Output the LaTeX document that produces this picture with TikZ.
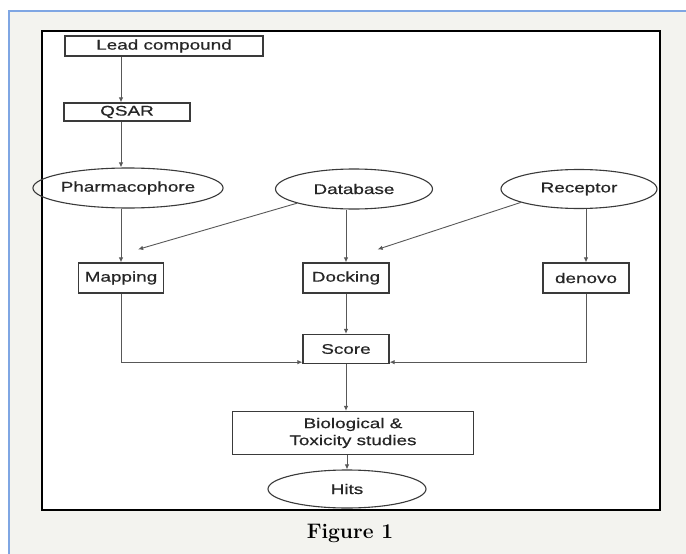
\documentclass[tikz,border=0pt]{standalone}
\usepackage{fontspec}
\usepackage{xcolor}
\usepackage{tikz}
\usetikzlibrary{arrows.meta,shapes.geometric,calc}
\newfontfamily\flowfont[FakeStretch=1.35,FakeBold=0.6]{Liberation Sans}
\definecolor{pagegray}{HTML}{F3F3EF}
\definecolor{rulebl}{HTML}{7FA6E3}
\definecolor{inkgray}{HTML}{3A3A3A}

\begin{document}
\begin{tikzpicture}[x=1pt,y=-1pt,>={Latex[length=5pt,width=4.5pt]},
  font=\flowfont\fontsize{14}{17}\selectfont,
  box/.style={draw=inkgray,line width=1.3pt,rectangle,inner sep=0pt,text=black!85},
  oval/.style={draw=inkgray,line width=1.1pt,ellipse,inner sep=0pt,text=black!85},
  link/.style={->,draw=inkgray!85,line width=0.9pt}]
  \useasboundingbox (0,0) rectangle (686,554);
  % page and frame
  \fill[white] (0,0) rectangle (686,554);
  \fill[pagegray] (9,11) rectangle (686,554);
  \draw[rulebl,line width=1.2pt] (9,554) -- (9,11) -- (686,11);
  \draw[fill=white,line width=1.4pt] (42,31) rectangle (660,510);

  \node[box,minimum width=198,minimum height=20] (lead) at (164,46) {Lead compound};
  \node[box,minimum width=126,minimum height=18] (qsar) at (127,112) {QSAR};
  \node[oval,minimum width=157,minimum height=40] (pharm) at (128,188) {Pharmacophore};
  \node[oval,minimum width=157,minimum height=40] (db) at (354,189) {Database};
  \node[oval,minimum width=156,minimum height=39] (rec) at (579,189) {Receptor};
  \node[box,minimum width=85,minimum height=30] (map) at (121,278) {Mapping};
  \node[box,minimum width=86,minimum height=30] (dock) at (346,278) {Docking};
  \node[box,minimum width=86,minimum height=30] (denovo) at (586,278) {denovo};
  \node[box,minimum width=86,minimum height=29] (score) at (346,349) {Score};
  \node[box,minimum width=241,minimum height=43,align=center] (bio) at (353,433) {Biological \&\\Toxicity studies};
  \node[oval,minimum width=158,minimum height=38] (hits) at (347,489) {Hits};
  \node[font=\rmfamily\bfseries\fontsize{21}{25}\selectfont] (cap) at (350,533) {Figure 1};

  \coordinate (mapin) at ($(map.north east)+(-26,-13)$);
  \coordinate (dockin) at ($(dock.north east)+(-12,-13)$);

  \draw[link] (lead.south -| map) -- (qsar.north -| map);
  \draw[link] (qsar.south -| map) -- (pharm.north -| map);
  \draw[link] (pharm.south -| map) -- (map.north);
  \draw[link] (db.194) -- (mapin);
  \draw[link] (db.south -| dock) -- (dock.north);
  \draw[link] (rec.193) -- (dockin);
  \draw[link] (rec.south -| denovo) -- (denovo.north);
  \draw[link] (map.south) |- ([yshift=2pt]score.south west);
  \draw[link] (denovo.south) |- ([yshift=2pt]score.south east);
  \draw[link] (dock.south) -- (score.north);
  \draw[link] (score.south) -- (score.south |- bio.north);
  \draw[link] (bio.south -| hits) -- (hits.north);
\end{tikzpicture}
\end{document}
